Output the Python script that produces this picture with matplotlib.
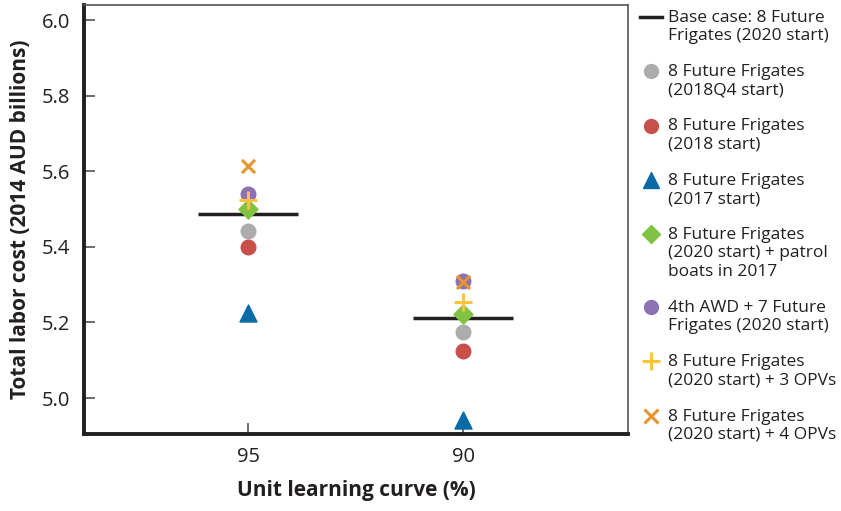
import numpy as np
import matplotlib
matplotlib.use('Agg')
import matplotlib.pyplot as plt
from matplotlib.lines import Line2D
from matplotlib.legend_handler import HandlerLine2D

plt.rcParams['font.family'] = ['Open Sans', 'DejaVu Sans']

# data
curves = ['95', '90']
base_case = [5.487, 5.212]
ff_2018q4 = [5.442, 5.175]
ff_2018 = [5.399, 5.124]
ff_2017 = [5.225, 4.942]
ff_patrol = [5.500, 5.222]
awd_7ff = [5.540, 5.311]
ff_3opv = [5.524, 5.254]
ff_4opv = [5.614, 5.306]

labels = ['Base case: 8 Future\nFrigates (2020 start)',
          '8 Future Frigates\n(2018Q4 start)',
          '8 Future Frigates\n(2018 start)',
          '8 Future Frigates\n(2017 start)',
          '8 Future Frigates\n(2020 start) + patrol\nboats in 2017',
          '4th AWD + 7 Future\nFrigates (2020 start)',
          '8 Future Frigates\n(2020 start) + 3 OPVs',
          '8 Future Frigates\n(2020 start) + 4 OPVs']


class TopLineHandler(HandlerLine2D):
    # put the legend mark next to the first line of a multi-line label
    def __init__(self, nlines, step=14.2, **kw):
        super().__init__(**kw)
        self.shift = (nlines - 1) / 2 * step

    def create_artists(self, legend, orig_handle, xdescent, ydescent, width, height, fontsize, trans):
        arts = super().create_artists(legend, orig_handle, xdescent, ydescent, width, height, fontsize, trans)
        for a in arts:
            a.set_ydata(np.asarray(a.get_ydata()) + self.shift)
        return arts


fig = plt.figure(figsize=(8.41, 5.11), dpi=100)
ax = fig.add_axes([84/841, 77/511, 544/841, 429/511])

x = np.arange(len(curves))
half = 0.233

ax.hlines(base_case, x - half, x + half, color='#231f20', lw=2.5, zorder=2)
ax.scatter(x, ff_2018q4, s=110, color='#acacac', marker='o', zorder=3)
ax.scatter(x, ff_2018, s=110, color='#c9504a', marker='o', zorder=3)
ax.scatter(x, ff_2017, s=150, color='#0a6aa8', marker='^', zorder=3)
ax.scatter(x, awd_7ff, s=110, color='#8a72b4', marker='o', zorder=3)
ax.scatter(x, ff_patrol, s=95, color='#80c342', marker='D', zorder=4)
ax.scatter(x, ff_3opv, s=150, color='#fdc23e', marker='+', linewidths=2.2, zorder=5)
ax.scatter(x, ff_4opv, s=90, color='#e5962f', marker='x', linewidths=2.2, zorder=5)

ax.set_xlim(-0.763, 1.767)
ax.set_ylim(4.905, 6.04)
ax.set_xticks(x)
ax.set_xticklabels(curves)
ax.set_yticks([5.0, 5.2, 5.4, 5.6, 5.8, 6.0])
ax.set_yticklabels(['5.0', '5.2', '5.4', '5.6', '5.8', '6.0'])
ax.tick_params(axis='both', direction='in', length=8, width=1.2, color='#555555',
               labelsize=14.5, labelcolor='#231f20')
ax.tick_params(axis='y', pad=10)
ax.tick_params(axis='x', pad=9)

for s in ['left', 'bottom']:
    ax.spines[s].set_linewidth(2.8)
    ax.spines[s].set_color('#231f20')
for s in ['top', 'right']:
    ax.spines[s].set_linewidth(1.2)
    ax.spines[s].set_color('#555555')

ax.set_xlabel('Unit learning curve (%)', fontsize=15, fontweight='bold', labelpad=10, color='#231f20')
ax.set_ylabel('Total labor cost (2014 AUD billions)', fontsize=15, fontweight='bold', labelpad=8, color='#231f20')

handles = [
    Line2D([], [], color='#231f20', lw=2.5),
    Line2D([], [], ls='', marker='o', ms=10, color='#acacac'),
    Line2D([], [], ls='', marker='o', ms=10, color='#c9504a'),
    Line2D([], [], ls='', marker='^', ms=12, color='#0a6aa8'),
    Line2D([], [], ls='', marker='D', ms=9, color='#80c342'),
    Line2D([], [], ls='', marker='o', ms=10, color='#8a72b4'),
    Line2D([], [], ls='', marker='+', ms=13, mew=2.2, color='#fdc23e'),
    Line2D([], [], ls='', marker='x', ms=10, mew=2.2, color='#e5962f'),
]
hmap = {h: TopLineHandler(lab.count('\n') + 1) for h, lab in zip(handles, labels)}
leg = fig.legend(handles, labels, handler_map=hmap, loc='upper left', bbox_to_anchor=(630/841, 1.0),
                 frameon=False, fontsize=12.5, handlelength=1.3, handletextpad=0.35,
                 labelspacing=1.15, borderaxespad=0.15, labelcolor='#231f20')
for t in leg.get_texts():
    t.set_linespacing(1.2)

fig.savefig('out.png', dpi=100)
